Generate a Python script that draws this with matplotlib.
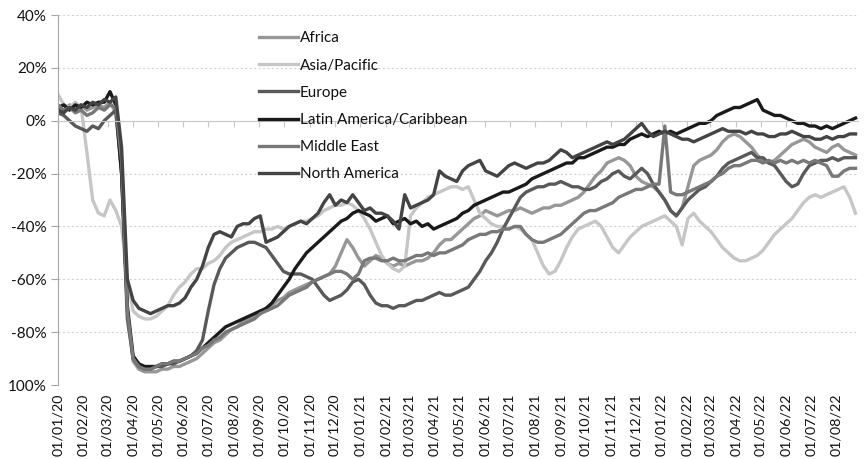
import numpy as np
import pandas as pd
import matplotlib
matplotlib.use("Agg")
import matplotlib.pyplot as plt
import matplotlib.dates as mdates

plt.rcParams['font.family'] = ['Lato', 'DejaVu Sans']

# weekly points, 01/01/20 .. 24/08/22
dates = pd.date_range('2020-01-01', periods=139, freq='7D')

africa = [
    5, 4, 6, 5, 6, 4, 5, 6, 5, 7,
    3, -18, -72, -91, -94, -95, -95, -95, -94, -94,
    -93, -93, -92, -91, -90, -88, -86, -84, -83, -81,
    -79, -78, -76, -75, -74, -73, -71, -70, -68, -67,
    -65, -64, -63, -62, -61, -60, -59, -58, -55, -50,
    -45, -48, -52, -55, -53, -51, -52, -54, -55, -54,
    -55, -54, -53, -53, -52, -50, -47, -45, -45, -43,
    -41, -39, -37, -36, -34, -35, -36, -35, -34, -34,
    -33, -34, -35, -34, -33, -33, -32, -32, -31, -30,
    -29, -27, -24, -21, -19, -16, -15, -14, -15, -17,
    -21, -23, -24, -25, -27, -30, -34, -36, -33, -25,
    -17, -15, -14, -13, -11, -8, -6, -5, -6, -8,
    -10, -13, -15, -16, -15, -13, -11, -9, -8, -7,
    -8, -10, -11, -12, -10, -9, -11, -12, -13,
]
asia_pacific = [
    10, 6, 5, 7, 5, -12, -30, -35, -36, -30,
    -34, -40, -60, -72, -74, -75, -75, -74, -72, -70,
    -66, -63, -61, -58, -56, -56, -54, -53, -51, -48,
    -46, -45, -44, -43, -42, -42, -41, -41, -40, -41,
    -40, -39, -38, -38, -37, -36, -34, -33, -32, -32,
    -31, -32, -34, -37, -41, -46, -51, -54, -56, -57,
    -55, -36, -33, -31, -29, -28, -27, -26, -25, -25,
    -26, -25, -30, -35, -37, -39, -40, -40, -41, -40,
    -41, -43, -45, -50, -55, -58, -57, -53, -48, -44,
    -41, -40, -39, -38, -40, -44, -48, -50, -47, -44,
    -42, -40, -39, -38, -37, -36, -38, -40, -47, -37,
    -35, -38, -40, -42, -45, -48, -50, -52, -53, -53,
    -52, -51, -49, -46, -43, -41, -39, -37, -34, -31,
    -29, -28, -29, -28, -27, -26, -25, -29, -35,
]
europe = [
    3, 2, 0, -2, -3, -4, -2, -3, 0, 2,
    4, -20, -75, -90, -93, -94, -94, -93, -93, -92,
    -92, -91, -90, -89, -87, -83, -72, -62, -56, -52,
    -50, -48, -47, -46, -46, -47, -48, -51, -54, -57,
    -58, -58, -58, -59, -60, -63, -66, -68, -67, -66,
    -64, -61, -60, -62, -66, -69, -70, -70, -71, -70,
    -70, -69, -68, -68, -67, -66, -65, -66, -66, -65,
    -64, -63, -60, -57, -53, -50, -46, -41, -37, -33,
    -29, -27, -26, -25, -25, -24, -24, -23, -24, -25,
    -25, -26, -26, -25, -23, -22, -20, -19, -21, -22,
    -20, -18, -20, -24, -27, -30, -34, -36, -33, -30,
    -28, -26, -25, -23, -21, -18, -16, -15, -14, -13,
    -12, -14, -14, -16, -17, -20, -23, -25, -24, -20,
    -17, -16, -15, -15, -14, -15, -14, -14, -14,
]
latin_america = [
    5, 6, 4, 6, 5, 7, 6, 7, 7, 11,
    6, -20, -70, -89, -92, -93, -93, -93, -92, -92,
    -91, -91, -90, -89, -88, -86, -84, -82, -80, -78,
    -77, -76, -75, -74, -73, -72, -71, -69, -66, -63,
    -60, -56, -53, -50, -48, -46, -44, -42, -40, -38,
    -37, -35, -34, -35, -36, -38, -37, -36, -39, -38,
    -37, -39, -38, -40, -39, -41, -40, -39, -38, -37,
    -35, -34, -32, -31, -30, -29, -28, -27, -27, -26,
    -25, -24, -22, -21, -20, -19, -18, -17, -16, -16,
    -14, -14, -13, -12, -11, -10, -10, -9, -9, -7,
    -6, -5, -6, -5, -4, -5, -4, -5, -4, -3,
    -2, -1, -1, 0, 2, 3, 4, 5, 5, 6,
    7, 8, 4, 3, 2, 2, 1, 0, -1, -1,
    -2, -2, -3, -2, -3, -2, -1, 0, 1,
]
middle_east = [
    6, 4, 5, 3, 4, 2, 3, 5, 4, 6,
    5, -15, -72, -90, -93, -94, -94, -93, -92, -92,
    -91, -91, -90, -89, -88, -86, -85, -83, -82, -80,
    -79, -78, -77, -76, -75, -73, -72, -71, -70, -68,
    -66, -65, -64, -63, -61, -60, -59, -58, -57, -57,
    -58, -60, -58, -53, -52, -52, -53, -53, -52, -53,
    -53, -52, -51, -51, -50, -51, -50, -50, -49, -48,
    -47, -45, -44, -43, -43, -42, -42, -41, -41, -40,
    -40, -43, -45, -46, -46, -45, -44, -43, -41, -39,
    -37, -35, -34, -34, -33, -32, -31, -29, -28, -27,
    -26, -26, -25, -24, -24, -2, -27, -28, -28, -27,
    -26, -25, -24, -23, -21, -20, -18, -17, -17, -16,
    -15, -15, -16, -15, -16, -15, -16, -15, -16, -15,
    -16, -15, -16, -17, -21, -21, -19, -18, -18,
]
north_america = [
    4, 3, 5, 4, 6, 5, 7, 6, 8, 7,
    9, -10, -60, -68, -71, -72, -73, -72, -71, -70,
    -70, -69, -67, -63, -60, -55, -48, -43, -42, -43,
    -44, -40, -39, -39, -37, -36, -46, -45, -44, -42,
    -40, -39, -38, -39, -37, -35, -31, -28, -32, -30,
    -31, -28, -31, -34, -33, -35, -35, -36, -38, -41,
    -28, -33, -32, -31, -30, -28, -19, -21, -22, -23,
    -19, -17, -16, -15, -19, -20, -21, -19, -17, -16,
    -17, -18, -17, -16, -16, -15, -13, -11, -12, -14,
    -13, -12, -11, -10, -9, -8, -9, -8, -7, -5,
    -3, -1, -4, -6, -5, -4, -5, -6, -7, -7,
    -8, -7, -6, -5, -4, -3, -4, -4, -4, -5,
    -4, -5, -5, -6, -6, -5, -5, -4, -5, -6,
    -6, -7, -7, -6, -7, -6, -6, -5, -5,
]

names = ["Africa", "Asia/Pacific", "Europe", "Latin America/Caribbean",
         "Middle East", "North America"]
series = [africa, asia_pacific, europe, latin_america, middle_east, north_america]
colors = ["#979797", "#c6c6c6", "#595959", "#1a1a1a", "#787878", "#444444"]

y_ticks = [-100, -80, -60, -40, -20, 0, 20, 40]
y_labels = ["100%", "-80%", "-60%", "-40%", "-20%", "0%", "20%", "40%"]

for s in series:
    assert len(s) == len(dates), len(s)

x = mdates.date2num(dates.to_pydatetime())

fig = plt.figure(figsize=(8.66, 4.59), dpi=100)
ax = fig.add_axes([58 / 866, 1 - 385 / 459, 800 / 866, 370 / 459])

for name, s, c in zip(names, series, colors):
    ax.plot(x, s, color=c, lw=2.4, label=name, solid_joinstyle="round")

ax.set_ylim(-100, 40)
ax.set_xlim(mdates.date2num(pd.Timestamp("2020-01-01")),
            mdates.date2num(pd.Timestamp("2022-08-27")))
ax.set_yticks(y_ticks, labels=y_labels)
ax.tick_params(axis="y", direction="out", length=5, color="#a6a6a6",
               labelsize=11, pad=3, labelcolor="#111111")
ax.yaxis.grid(True, ls=(0, (2, 2)), color="#d2d2d2", lw=0.8)
ax.set_axisbelow(True)

for side in ["top", "right"]:
    ax.spines[side].set_visible(False)
ax.spines["left"].set_color("#a6a6a6")
ax.spines["bottom"].set_position(("data", 0))
ax.spines["bottom"].set_color("#c8c8c8")

ax.xaxis.set_major_locator(mdates.MonthLocator())
ax.tick_params(axis="x", direction="out", length=4, color="#c8c8c8",
               labelbottom=False)

sec = ax.secondary_xaxis("bottom")
sec.xaxis.set_major_locator(mdates.MonthLocator())
sec.xaxis.set_major_formatter(mdates.DateFormatter("%d/%m/%y"))
sec.tick_params(length=0, labelrotation=90, labelsize=10.3, pad=6,
                labelcolor="#111111")
sec.spines["bottom"].set_visible(False)

ax.legend(loc="upper left", bbox_to_anchor=(0.243, 0.972), frameon=False,
          fontsize=11, handlelength=2.6, handletextpad=0.1,
          labelspacing=0.86, borderaxespad=0, labelcolor="#111111")

fig.savefig("out.png", dpi=100)
